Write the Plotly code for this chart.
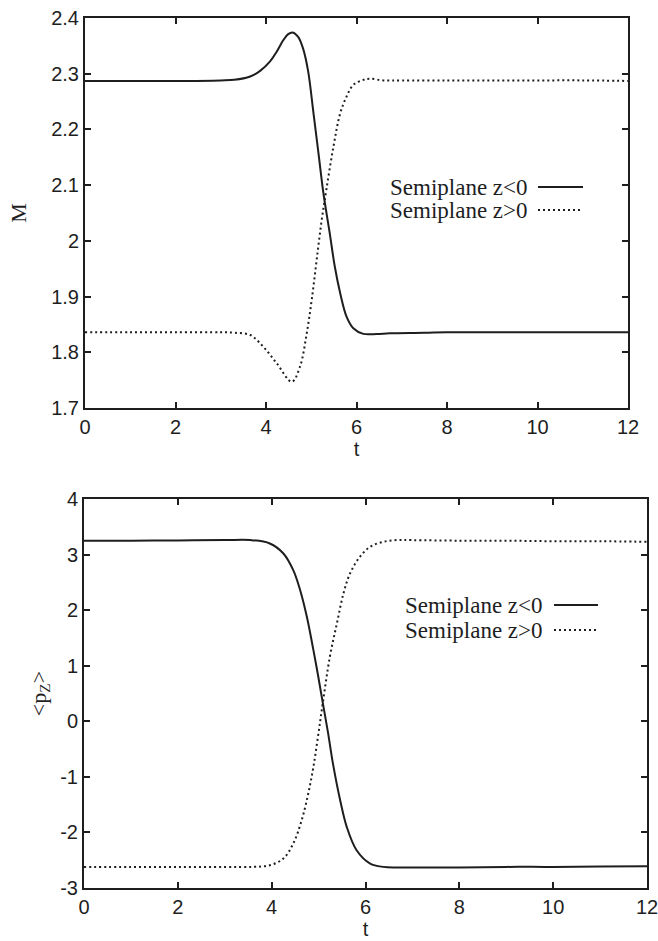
import plotly.graph_objects as go

# ---------------- data ----------------
# Top panel: M(t)
t_m_neg = [0, 1, 2, 3, 3.3, 3.65, 3.87, 4.09, 4.24, 4.38, 4.49, 4.59, 4.71, 4.82, 4.93, 5.05,
           5.16, 5.27, 5.41, 5.52, 5.64, 5.78, 5.93, 6.15, 6.45, 6.74, 7.5, 8, 9, 10, 11, 12]
m_neg = [2.287, 2.287, 2.287, 2.288, 2.289, 2.295, 2.305, 2.322, 2.340, 2.360, 2.371, 2.374,
         2.366, 2.345, 2.305, 2.229, 2.157, 2.085, 2.013, 1.954, 1.906, 1.864, 1.843, 1.833,
         1.833, 1.834, 1.835, 1.836, 1.836, 1.836, 1.836, 1.836]

t_m_pos = [0, 1, 2, 3, 3.3, 3.65, 3.94, 4.24, 4.57, 4.75, 4.90, 5.01, 5.12, 5.23, 5.34,
           5.49, 5.64, 5.78, 5.93, 6.15, 6.3, 6.59, 7, 8, 9, 10, 11, 12]
m_pos = [1.836, 1.836, 1.836, 1.836, 1.835, 1.831, 1.810, 1.780, 1.747, 1.774, 1.834, 1.894,
         1.966, 2.037, 2.095, 2.169, 2.229, 2.259, 2.280, 2.289, 2.291, 2.288, 2.288, 2.288,
         2.288, 2.288, 2.288, 2.287]

# Bottom panel: <p_z>(t)
t_p_neg = [0, 1, 2, 3, 3.54, 3.96, 4.25, 4.46, 4.60, 4.75, 4.89, 4.99, 5.09, 5.20, 5.31,
           5.46, 5.60, 5.81, 6.10, 6.38, 6.66, 7, 8, 9, 10, 11, 12]
p_neg = [3.25, 3.25, 3.255, 3.26, 3.262, 3.20, 3.02, 2.72, 2.38, 1.88, 1.28, 0.82, 0.33,
         -0.20, -0.78, -1.42, -1.90, -2.32, -2.56, -2.62, -2.63, -2.63, -2.63, -2.62,
         -2.62, -2.615, -2.61]

t_p_pos = [0, 1, 2, 3, 3.61, 3.96, 4.25, 4.46, 4.64, 4.78, 4.89, 4.99, 5.09, 5.24,
           5.39, 5.53, 5.67, 5.88, 6.10, 6.38, 6.66, 7, 8, 9, 10, 11, 12]
p_pos = [-2.62, -2.62, -2.62, -2.62, -2.62, -2.59, -2.47, -2.20, -1.78, -1.30, -0.82, -0.26,
         0.33, 1.16, 1.76, 2.30, 2.66, 2.96, 3.14, 3.23, 3.26, 3.26, 3.25, 3.25,
         3.24, 3.24, 3.23]

x_ticks = [0, 2, 4, 6, 8, 10, 12]
m_ticks = [1.7, 1.8, 1.9, 2.0, 2.1, 2.2, 2.3, 2.4]
m_tick_text = ["1.7", "1.8", "1.9", "2", "2.1", "2.2", "2.3", "2.4"]
p_ticks = [-3, -2, -1, 0, 1, 2, 3, 4]
p_tick_text = ["-3", "-2", "-1", "0", "1", "2", "3", "4"]

legend_labels = ["Semiplane z<0", "Semiplane z>0"]
y_title_top = "M"
y_title_bottom = "&lt;p<sub>Z</sub>&gt;"
x_title = "t"

# ---------------- figure ----------------
W, H = 658, 941
INK = "#1e1e1e"
SANS = "Liberation Sans, Arial, sans-serif"
SERIF = "Liberation Serif, Times New Roman, serif"

solid = dict(color=INK, width=2)
dotted = dict(color=INK, width=2, dash="2px,3px")

fig = go.Figure()
fig.add_trace(go.Scatter(x=t_m_neg, y=m_neg, mode="lines", line=solid, line_shape="spline",
                         name=legend_labels[0], xaxis="x", yaxis="y", showlegend=False))
fig.add_trace(go.Scatter(x=t_m_pos, y=m_pos, mode="lines", line=dotted, line_shape="spline",
                         name=legend_labels[1], xaxis="x", yaxis="y", showlegend=False))
fig.add_trace(go.Scatter(x=t_p_neg, y=p_neg, mode="lines", line=solid, line_shape="spline",
                         name=legend_labels[0], xaxis="x2", yaxis="y2", showlegend=False))
fig.add_trace(go.Scatter(x=t_p_pos, y=p_pos, mode="lines", line=dotted, line_shape="spline",
                         name=legend_labels[1], xaxis="x2", yaxis="y2", showlegend=False))

def px(x):
    return x / W

def py(y):
    return 1 - y / H

axis_common = dict(showline=True, linecolor=INK, linewidth=2, mirror="ticks",
                   ticks="inside", ticklen=6, tickwidth=1.5, tickcolor=INK,
                   showgrid=False, zeroline=False, automargin=False,
                   ticklabeloverflow="allow",
                   tickfont=dict(family=SANS, size=20, color=INK))

fig.update_layout(
    width=W, height=H,
    margin=dict(l=0, r=0, t=0, b=0),
    paper_bgcolor="white", plot_bgcolor="white",
    xaxis=dict(axis_common, domain=[px(85), px(628)], anchor="y", range=[0, 12],
               tickvals=x_ticks,
               title=dict(text=x_title, font=dict(family=SANS, size=20, color=INK), standoff=2)),
    yaxis=dict(axis_common, domain=[py(408), py(18)], anchor="x", range=[1.7, 2.4],
               tickvals=m_ticks, ticktext=m_tick_text,
               title=dict(text=y_title_top, font=dict(family=SERIF, size=22, color=INK), standoff=18)),
    xaxis2=dict(axis_common, domain=[px(84), px(647)], anchor="y2", range=[0, 12],
                tickvals=x_ticks,
                title=dict(text=x_title, font=dict(family=SANS, size=20, color=INK), standoff=2)),
    yaxis2=dict(axis_common, domain=[py(888), py(499)], anchor="x2", range=[-3, 4],
                tickvals=p_ticks, ticktext=p_tick_text,
                title=dict(text=y_title_bottom, font=dict(family=SERIF, size=22, color=INK), standoff=8)),
)

# gnuplot-style key: text on the left, line sample on the right
keys = [
    dict(text_right=530, rows=[187, 210], line=(538, 583)),
    dict(text_right=545, rows=[605, 630], line=(554, 598)),
]
for k in keys:
    for i, row in enumerate(k["rows"]):
        fig.add_annotation(xref="paper", yref="paper", x=px(k["text_right"]), y=py(row),
                           xanchor="right", yanchor="middle", showarrow=False,
                           text=legend_labels[i],
                           font=dict(family=SERIF, size=23, color=INK))
        style = solid if i == 0 else dotted
        fig.add_shape(type="line", xref="paper", yref="paper",
                      x0=px(k["line"][0]), x1=px(k["line"][1]), y0=py(row), y1=py(row),
                      line=dict(color=INK, width=2, dash=style.get("dash", "solid")))

fig.write_html("out.html", config={"displayModeBar": False},
               post_script="document.body.style.margin='0';document.body.style.overflow='hidden';")
